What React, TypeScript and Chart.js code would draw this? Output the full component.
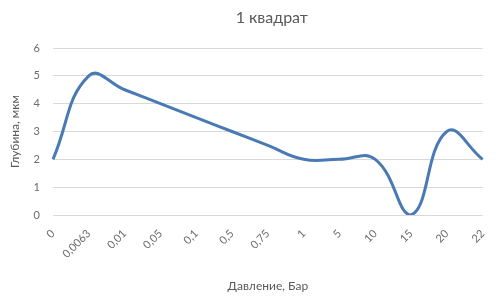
import React, { useEffect, useRef } from "react";
import { Chart, registerables } from "chart.js";

Chart.register(...registerables);

const categories = ["0", "0,0063", "0,01", "0,05", "0,1", "0,5", "0,75", "1", "5", "10", "15", "20", "22"];
const depth = [2, 5, 4.5, 4, 3.5, 3, 2.5, 2, 2, 2, 0, 3, 2];
const chartTitle = "1 квадрат";
const xTitle = "Давление, Бар";
const yTitle = "Глубина, мкм";

const FONT = "Lato, 'Open Sans', sans-serif";

export default function App() {
  const ref = useRef<HTMLCanvasElement | null>(null);
  useEffect(() => {
    if (!ref.current) return;
    const titlePlugin = {
      id: "centerTitle",
      afterDraw(chart: any) {
        const { ctx, chartArea } = chart;
        ctx.save();
        ctx.fillStyle = "#595959";
        ctx.font = `16px ${FONT}`;
        ctx.textAlign = "center";
        ctx.textBaseline = "middle";
        ctx.fillText(chartTitle, (chartArea.left + chartArea.right) / 2 + 4, 18);
        ctx.restore();
      },
    };
    const chart = new Chart(ref.current, {
      type: "line",
      data: {
        labels: categories,
        datasets: [
          {
            data: depth,
            borderColor: "#4a7ab4",
            borderWidth: 3,
            pointRadius: 0,
            tension: 0.45,
            fill: false,
          },
        ],
      },
      plugins: [titlePlugin],
      options: {
        animation: false,
        responsive: true,
        maintainAspectRatio: false,
        layout: { padding: { top: 48, right: 5, bottom: 0, left: 0 } },
        plugins: { legend: { display: false }, tooltip: { enabled: false }, title: { display: false } },
        scales: {
          x: {
            grid: { display: false },
            border: { display: false },
            ticks: {
              autoSkip: false,
              minRotation: 45,
              maxRotation: 45,
              color: "#6b6b6b",
              font: { family: FONT, size: 11 },
              padding: 4,
            },
            title: {
              display: true,
              text: xTitle,
              color: "#595959",
              font: { family: FONT, size: 12 },
              padding: { top: 4, bottom: 4 },
            },
            afterFit(scale: any) {
              scale.height = 82;
            },
          },
          y: {
            min: 0,
            max: 6,
            grid: { color: "#d9d9d9", drawTicks: false },
            border: { display: false },
            ticks: {
              stepSize: 1,
              color: "#6b6b6b",
              font: { family: FONT, size: 11 },
              padding: 13,
            },
            title: {
              display: true,
              text: yTitle,
              color: "#595959",
              font: { family: FONT, size: 12 },
              padding: { top: 8, bottom: 4 },
            },
            afterFit(scale: any) {
              scale.width = 53;
            },
          },
        },
      },
    });
    return () => chart.destroy();
  }, []);
  return (
    <div style={{ position: "fixed", left: 0, top: 0, width: 496, height: 297, background: "#fff" }}>
      <canvas ref={ref} />
    </div>
  );
}
